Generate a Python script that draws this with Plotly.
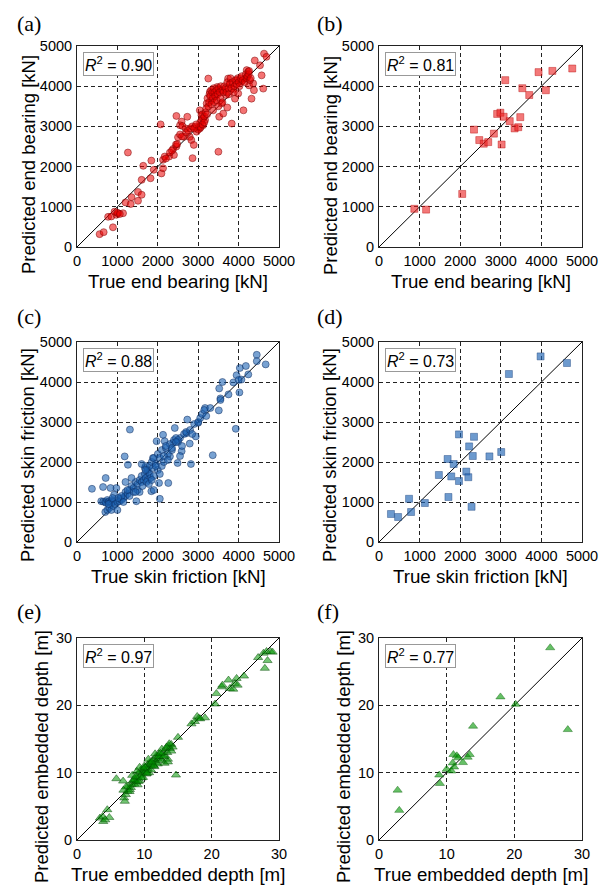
import plotly.graph_objects as go

W, H = 603, 887

# ---------------- data ----------------
# (a) end bearing, training (true, predicted) [kN]
a_true = [560, 660, 890, 770, 850, 975, 1020, 930, 1140, 1200, 1330, 1350, 1260, 1510, 1510, 1600, 1600,
          1640, 1820, 1840, 1900, 2090, 2130, 2070, 2130, 2170, 2280, 2380, 2400, 2460, 2500, 2460, 2550,
          2590, 2610, 2650, 2690, 2730, 2790, 2830, 2860, 2890, 2920, 2960, 3040, 3040, 3080, 3120, 3170,
          3210, 3250, 3290, 3330, 3370, 3440, 3470, 3500, 3520, 3550, 3580, 3620, 3690, 3720, 3740, 3790,
          3830, 3870, 3910, 3950, 3990, 4070, 4120, 4160, 4200, 4240, 4260, 4320, 4360, 4380, 4400, 4570,
          4610, 4630, 4690, 4530,
          3000, 3020, 3050, 3060, 3080, 3100, 3100, 3120, 3150, 3150, 3180, 3200, 3220, 3230, 3250, 3270,
          3280, 3300, 3320, 3330, 3350, 3360, 3380, 3400, 3400, 3420, 3450, 3460, 3480, 3500, 3500, 3530,
          3550, 3560, 3600, 3600, 3630, 3650, 3680, 3700, 3720, 3750, 3760, 3780, 3800, 3820, 3850, 3880,
          3900, 3920, 3950, 3980, 4000, 4020, 4050, 4080, 4100, 4150, 4180, 4200, 4220, 4250, 4260, 4280,
          4300, 2300, 2350, 2450, 2550, 2600, 2700, 2750, 2800, 2850, 2900, 2950, 1000, 1060, 2200, 2480]
a_pred = [320, 370, 490, 750, 760, 800, 840, 880, 840, 1110, 1070, 1240, 2350, 1370, 1150, 1300, 1670,
          2020, 1710, 2150, 1920, 1830, 1960, 3050, 2170, 2250, 2250, 2440, 2290, 2500, 2730, 3260, 3030,
          3120, 3010, 2740, 2950, 3240, 2740, 2660, 2210, 2540, 2990, 2870, 2950, 3400, 3280, 3030, 3160,
          3570, 4190, 3860, 3650, 3400, 3780, 3980, 2370, 3240, 3900, 3570, 3320, 3780, 3470, 4190, 4070,
          3070, 3930, 3690, 4150, 3820, 4110, 3400, 4190, 4400, 4360, 4020, 3690, 4070, 3900, 4640, 4270,
          3940, 4810, 4730, 4520,
          2920, 3000, 3100, 2980, 3150, 3050, 3300, 3200, 3250, 3100, 3350, 3450, 3300, 3700, 3500, 3600,
          3800, 3750, 3900, 3550, 3850, 3700, 3950, 3600, 3850, 3750, 3900, 3650, 3800, 3950, 3500, 3850,
          3700, 4000, 3900, 3600, 3850, 4000, 3950, 3850, 4100, 3950, 3800, 4050, 4200, 3950, 4100, 3850,
          4000, 4150, 4050, 4200, 4100, 4000, 4200, 4250, 4150, 4100, 4300, 4200, 4250, 4300, 4380, 4150,
          4200, 2350, 2400, 2550, 2800, 2750, 2850, 2900, 2950, 3000, 2950, 3050, 850, 820, 2200, 2560]

# (b) end bearing, testing
b_true = [870, 1160, 2050, 2340, 2470, 2580, 2690, 2830, 2910, 2990, 3020, 3070, 3110, 3220, 3340, 3430,
          3480, 3530, 3700, 3930, 4110, 4270, 4760]
b_pred = [950, 930, 1320, 2920, 2660, 2570, 2610, 2820, 3310, 3340, 2550, 3240, 4150, 3130, 2950, 2980,
          3230, 3950, 3780, 4350, 3900, 4380, 4440]

# (c) skin friction, training
c_true = [370, 710, 645, 600, 1310, 1180, 1260, 2050, 2030, 2260, 2420, 2490, 2590, 2730, 2820, 2940,
          3360, 3510, 3520, 3550, 3600, 3750, 3870, 3930, 3950, 4020, 4030, 4070, 4180, 4240, 4450, 4450,
          4670, 3170, 3000, 2710, 2790, 2550, 2380, 2300, 2170, 2130, 1970, 1880, 1840, 1760, 1680,
          650, 700, 720, 750, 780, 800, 820, 850, 870, 900, 700, 750, 800, 850, 900, 950, 1000, 1000,
          1050, 1080, 1100, 1150, 1200, 1200, 1250, 1300, 1300, 1350, 1400, 1400, 1450, 1500, 1500, 1550,
          1600, 1600, 1650, 1680, 1700, 1700, 1750, 1750, 1800, 1800, 1820, 1850, 1880, 1900, 1900, 1950,
          2000, 2000, 2050, 2100, 2100, 2150, 2200, 2250, 2300, 2350, 2400, 2450, 2500, 2600, 2650, 2700,
          2800, 2850, 2900, 3000, 3050, 3100, 3150, 3200, 975, 830, 1470, 1200, 1550, 1620, 1720, 1780,
          1850, 1900, 1950, 2050, 2150, 2250, 2350, 2500, 2550, 3550, 4000, 1100, 1250, 1350, 1450, 920,
          1020, 1150, 780, 880, 1600, 1700, 2200, 2450, 3300]
c_pred = [1330, 1600, 1375, 1020, 2810, 2140, 1930, 1080, 1475, 1475, 2850, 1975, 2270, 3060, 1950, 2640,
          2170, 3290, 3840, 3590, 4000, 3690, 3990, 2830, 4170, 3740, 4350, 4060, 4400, 4190, 4680, 4520,
          4440, 3350, 2980, 2720, 2460, 2600, 2480, 2140, 2520, 2680, 2520, 2100, 1270, 1730, 1850,
          1010, 1000, 980, 1050, 1000, 1020, 980, 1000, 1050, 1000, 750, 800, 850, 800, 900, 950, 1000, 800,
          1020, 1100, 1050, 1100, 1150, 1250, 1200, 1300, 1150, 1400, 1350, 1250, 1500, 1450, 1300, 1550,
          1500, 1650, 1550, 1700, 1600, 1900, 1550, 1800, 1700, 1900, 1600, 2000, 1850, 1650, 2100, 1950,
          2200, 1800, 2100, 2300, 1900, 2000, 2350, 2200, 2450, 2300, 2550, 2600, 2500, 2400, 2700, 2750,
          2800, 2700, 2950, 3000, 3100, 3200, 3300, 3150, 1350, 1350, 1020, 1500, 1250, 1400, 1500, 1450,
          1550, 1300, 1900, 1700, 2150, 2050, 2350, 2550, 2150, 3550, 4050, 1150, 1300, 1600, 1250, 1180,
          1100, 1000, 950, 1100, 1950, 1800, 2400, 2500, 3350]

# (d) skin friction, testing
d_true = [295, 470, 740, 790, 1130, 1475, 1690, 1710, 1780, 1840, 1970, 1970, 2150, 2200, 2220, 2280,
          2310, 2340, 2720, 3010, 3200, 3980, 4630]
d_pred = [700, 625, 1080, 750, 975, 1675, 2075, 1125, 1640, 1950, 2690, 1525, 1760, 1620, 2390, 880,
          2150, 2630, 2140, 2250, 4200, 4640, 4475]

# (e) embedded depth, training [m]
e_true = [3.4, 3.9, 3.8, 4.5, 4.8, 4.2, 5.85, 6.85, 7.0, 7.1, 7.25, 7.5, 7.85, 8.1, 7.6, 8.0, 8.3, 8.5,
          8.6, 8.8, 9.0, 9.0, 9.2, 9.3, 9.5, 9.5, 9.7, 9.8, 10.0, 10.0, 10.2, 10.3, 10.5, 10.5, 10.7, 10.8,
          11.0, 11.0, 11.2, 11.3, 11.5, 11.5, 11.7, 11.8, 12.0, 12.0, 12.2, 12.3, 12.5, 12.6, 12.8, 13.0,
          13.0, 13.2, 13.4, 13.5, 13.6, 13.8, 14.0, 14.0, 14.2, 13.5, 8.2, 8.9, 9.3, 10.6, 11.6, 12.6,
          14.7, 15.0, 17.0, 17.85, 18.1, 19.0, 20.7, 21.5, 21.6, 22.5, 22.7, 23.2, 23.45, 23.7, 23.85,
          24.8, 26.9, 27.7, 27.9, 28.15, 28.3, 28.75, 29.05, 20.5, 17.5, 18.3, 7.3, 7.8, 8.4, 9.1, 9.9,
          10.4, 10.9, 11.4, 12.1, 12.9, 13.7, 6.9, 8.7, 9.6, 10.1, 11.1, 12.4, 13.3]
e_pred = [3.25, 2.75, 3.5, 4.5, 3.35, 3.0, 9.1, 8.75, 6.25, 5.75, 6.75, 7.25, 7.5, 8.25, 8.0, 7.8, 8.8,
          8.3, 9.0, 8.6, 9.3, 8.2, 9.8, 8.8, 9.6, 10.4, 10.0, 9.3, 10.5, 11.0, 10.2, 9.8, 11.2, 10.6, 10.0,
          11.5, 11.0, 10.4, 11.8, 11.2, 12.0, 10.9, 11.5, 12.5, 12.0, 11.3, 12.8, 12.2, 12.6, 11.8, 13.0,
          12.5, 11.4, 13.5, 13.0, 12.0, 14.0, 13.6, 14.2, 13.2, 13.8, 11.6, 9.6, 10.2, 10.8, 12.0, 12.8,
          13.5, 9.65, 15.25, 17.25, 18.35, 18.1, 18.15, 21.75, 22.75, 23.0, 23.75, 22.5, 22.4, 23.25,
          24.0, 23.0, 24.35, 27.1, 27.75, 25.5, 28.0, 26.65, 28.0, 27.9, 20.2, 17.6, 18.0, 7.9, 7.2, 8.9,
          8.7, 10.6, 9.9, 11.3, 11.0, 12.4, 12.4, 14.3, 7.4, 9.4, 9.2, 10.8, 11.6, 12.9, 13.8]

# (f) embedded depth, testing
f_true = [2.75, 3.0, 8.9, 9.0, 10.0, 10.7, 10.9, 11.0, 11.1, 11.5, 11.7, 12.4, 13.1, 13.4, 13.9, 17.95,
          20.2, 25.3, 27.9]
f_pred = [7.4, 4.4, 9.65, 8.4, 10.5, 10.25, 11.45, 12.7, 10.85, 12.5, 12.2, 11.5, 12.3, 12.7, 16.9, 21.25,
          20.15, 28.55, 16.4]

r2_labels = ["0.90", "0.81", "0.88", "0.73", "0.97", "0.77"]
panel_letters = ["(a)", "(b)", "(c)", "(d)", "(e)", "(f)"]
x_titles = ["True end bearing [kN]", "True end bearing [kN]", "True skin friction [kN]",
            "True skin friction [kN]", "True embedded depth [m]", "True embedded depth [m]"]
y_titles = ["Predicted end bearing [kN]", "Predicted end bearing [kN]", "Predicted skin friction [kN]",
            "Predicted skin friction [kN]", "Predicted embedded depth [m]", "Predicted embedded depth [m]"]
kn_range = [0, 5000]
kn_ticks = [0, 1000, 2000, 3000, 4000, 5000]
m_range = [0, 30]
m_ticks = [0, 10, 20, 30]

# ---------------- layout geometry (pixels) ----------------
col_x = [(77, 279), (379, 582)]
row_y = [(46, 247), (342, 542), (638, 840)]
letter_x = [15, 315]
letter_y = [23, 316, 611]
ytitle_x = [[28, 330], [28, 330], [41, 343]]
ytitle_y = [165, 455, 757]
xtitle_dy = 34

SANS = "Liberation Sans, Arial, sans-serif"
SERIF = "Liberation Serif, Times New Roman, serif"

panels = [
    dict(x=a_true, y=a_pred, sym="circle", fill="rgba(235,0,0,0.55)", edge="rgba(120,0,0,0.6)", size=7),
    dict(x=b_true, y=b_pred, sym="square", fill="rgba(235,30,30,0.6)", edge="rgba(180,0,0,0.5)", size=7),
    dict(x=c_true, y=c_pred, sym="circle", fill="rgba(30,100,180,0.6)", edge="rgba(10,40,90,0.6)", size=7),
    dict(x=d_true, y=d_pred, sym="square", fill="rgba(30,100,180,0.65)", edge="rgba(20,60,120,0.5)", size=7),
    dict(x=e_true, y=e_pred, sym="triangle-up", fill="rgba(0,150,0,0.55)", edge="rgba(0,70,0,0.6)", size=8),
    dict(x=f_true, y=f_pred, sym="triangle-up", fill="rgba(0,150,0,0.6)", edge="rgba(0,90,0,0.5)", size=8),
]

fig = go.Figure()
annotations = []
layout = {}

for i, p in enumerate(panels):
    r, c = divmod(i, 2)
    n = i + 1
    xa = "x" if n == 1 else f"x{n}"
    ya = "y" if n == 1 else f"y{n}"
    rng = kn_range if r < 2 else m_range
    ticks = kn_ticks if r < 2 else m_ticks
    x0, x1 = col_x[c]
    y0, y1 = row_y[r]
    common = dict(
        range=rng, tickvals=ticks, ticktext=[str(t) for t in ticks],
        showline=True, linecolor="#222", linewidth=1, mirror=True,
        showgrid=True, gridcolor="#222", gridwidth=1, griddash="4px,3px",
        zeroline=False, ticks="", tickfont=dict(family=SANS, size=14.5, color="black"),
        fixedrange=True, automargin=False,
    )
    layout["xaxis" if n == 1 else f"xaxis{n}"] = dict(
        common, domain=[x0 / W, x1 / W], anchor=ya, ticklabelstandoff=1,
    )
    layout["yaxis" if n == 1 else f"yaxis{n}"] = dict(
        common, domain=[1 - y1 / H, 1 - y0 / H], anchor=xa, ticklabelstandoff=1,
    )
    # diagonal 1:1 line
    fig.add_trace(go.Scatter(x=rng, y=rng, mode="lines", line=dict(color="black", width=1),
                             xaxis=xa, yaxis=ya, showlegend=False, hoverinfo="skip"))
    fig.add_trace(go.Scatter(x=p["x"], y=p["y"], mode="markers", xaxis=xa, yaxis=ya, showlegend=False,
                             marker=dict(symbol=p["sym"], size=p["size"], color=p["fill"],
                                         line=dict(color=p["edge"], width=0.8))))
    annotations.append(dict(
        xref=f"{xa} domain", yref=f"{ya} domain", x=0.03, y=0.97, xanchor="left", yanchor="top",
        text=f"<i>R</i><sup>2</sup> = {r2_labels[i]}", showarrow=False,
        font=dict(family=SANS, size=16, color="black"),
        bgcolor="white", bordercolor="#999", borderwidth=1, borderpad=1,
    ))
    annotations.append(dict(
        xref="paper", yref="paper", x=letter_x[c] / W, y=1 - letter_y[r] / H,
        xanchor="left", yanchor="middle", text=panel_letters[i], showarrow=False,
        font=dict(family=SERIF, size=22, color="black"),
    ))
    # axis titles
    annotations.append(dict(
        xref="paper", yref="paper", x=(x0 + x1) / 2 / W, y=1 - (y1 + xtitle_dy) / H,
        xanchor="center", yanchor="middle", text=x_titles[i], showarrow=False,
        font=dict(family=SANS, size=18.7, color="black"),
    ))
    annotations.append(dict(
        xref="paper", yref="paper", x=ytitle_x[r][c] / W, y=1 - ytitle_y[r] / H,
        xanchor="center", yanchor="middle", text=y_titles[i], showarrow=False, textangle=-90,
        font=dict(family=SANS, size=18.5, color="black"),
    ))

fig.update_layout(
    width=W, height=H, margin=dict(l=0, r=0, t=0, b=0),
    paper_bgcolor="white", plot_bgcolor="white",
    annotations=annotations, **layout,
)

fig.write_html("out.html", config={"displayModeBar": False},
               post_script="document.body.style.margin='0px';")
